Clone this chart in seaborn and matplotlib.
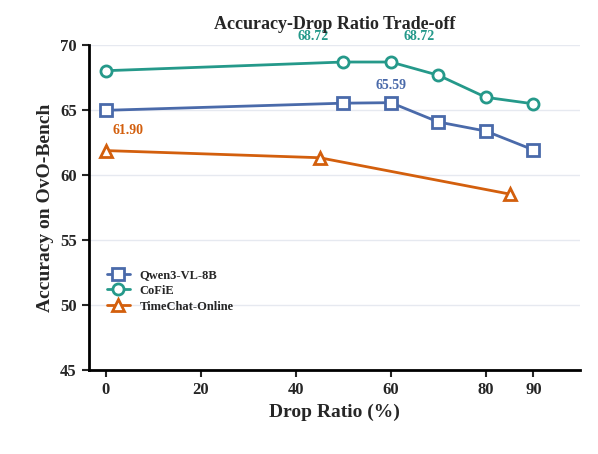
import matplotlib
matplotlib.use('Agg')
import matplotlib.pyplot as plt
import seaborn as sns
import pandas as pd

sns.set_style('white')
plt.rcParams['font.family'] = ['Liberation Serif', 'DejaVu Serif']
plt.rcParams['font.weight'] = 'bold'

qwen_x = [0, 50, 60, 70, 80, 90]
qwen_y = [65.0, 65.55, 65.59, 64.1, 63.4, 61.95]
cofie_x = [0, 50, 60, 70, 80, 90]
cofie_y = [68.05, 68.72, 68.72, 67.7, 66.0, 65.5]
tc_x = [0, 45, 85]
tc_y = [61.90, 61.35, 58.55]

fig, ax = plt.subplots(figsize=(5.98, 4.54), dpi=100)
ax.yaxis.grid(True, color='#e6e9f0', lw=1)
ax.set_axisbelow(True)

series = [('Qwen3-VL-8B', qwen_x, qwen_y, '#4a6aaa', 's'),
          ('CoFiE', cofie_x, cofie_y, '#25998a', 'o'),
          ('TimeChat-Online', tc_x, tc_y, '#d35f0d', '^')]
for name, xs, ys, c, m in series:
    df = pd.DataFrame({'x': xs, 'y': ys})
    sns.lineplot(data=df, x='x', y='y', ax=ax, color=c, marker=m, lw=2,
                 markersize=8, markerfacecolor='white', markeredgecolor=c,
                 markeredgewidth=2, label=name)

ax.annotate('68.72', (50, 68.72), xytext=(-22, 16), textcoords='offset points',
            color='#25998a', fontsize=10, fontweight='bold', ha='center')
ax.annotate('68.72', (60, 68.72), xytext=(20, 16), textcoords='offset points',
            color='#25998a', fontsize=10, fontweight='bold', ha='center')
ax.annotate('65.59', (60, 65.59), xytext=(0, 10), textcoords='offset points',
            color='#4a6aaa', fontsize=10, fontweight='bold', ha='center')
ax.annotate('61.90', (0, 61.90), xytext=(16, 12), textcoords='offset points',
            color='#d35f0d', fontsize=10, fontweight='bold', ha='center')

ax.set_xlim(-3.6, 99.8)
ax.set_ylim(45, 70)
ax.set_xticks([0, 20, 40, 60, 80, 90])
ax.set_yticks([45, 50, 55, 60, 65, 70])
ax.tick_params(labelsize=12, width=1.5, length=5, direction='out', left=True, bottom=True)
ax.set_xlabel('Drop Ratio (%)', fontsize=14, fontweight='bold')
ax.set_ylabel('Accuracy on OvO-Bench', fontsize=14, fontweight='bold')
ax.set_title('Accuracy-Drop Ratio Trade-off', fontsize=13, fontweight='bold', pad=12)
for s in ['top', 'right']:
    ax.spines[s].set_visible(False)
for s in ['left', 'bottom']:
    ax.spines[s].set_linewidth(2)
    ax.spines[s].set_color('black')
ax.legend(loc='lower left', bbox_to_anchor=(0.02, 0.15), frameon=False, fontsize=9,
          handlelength=1.8, borderaxespad=0.3, labelspacing=0.3)
fig.subplots_adjust(left=0.148, right=0.97, top=0.9, bottom=0.185)
fig.savefig('out.png')
